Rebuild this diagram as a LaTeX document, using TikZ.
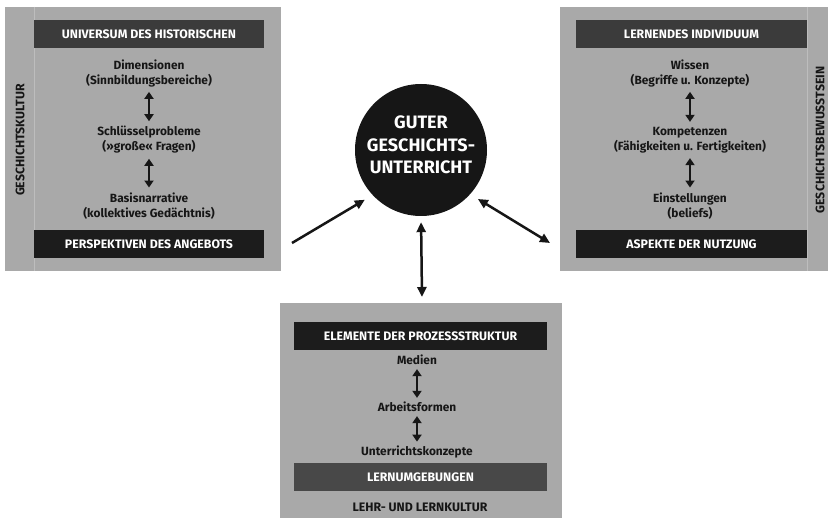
\documentclass[tikz,border=0pt]{standalone}
\usepackage{fontspec}
\setmainfont{Fira Sans}
\usetikzlibrary{arrows.meta}
\definecolor{panelgray}{HTML}{A9A9A9}
\definecolor{stripline}{HTML}{BDBDBD}
\definecolor{darkbar}{HTML}{1C1C1C}
\definecolor{midbar}{HTML}{3B3B3B}
\definecolor{lernbar}{HTML}{484848}
\definecolor{ink}{HTML}{161616}
\begin{document}
\begin{tikzpicture}[x=1pt,y=-1pt,
  panel/.style={fill=panelgray, draw=none, anchor=north west, inner sep=0pt},
  hbar/.style 2 args={fill=#1, text=white, inner sep=0pt,
    font=\bfseries\fontsize{12.3}{14}\selectfont,
    minimum width=#2, minimum height=28pt},
  item/.style={align=center, font=\bfseries\fontsize{11.9}{15}\selectfont, text=ink, inner sep=1pt},
  vlabel/.style={rotate=90, font=\bfseries\fontsize{12.3}{14}\selectfont, text=ink},
  dbl/.style={{Triangle[length=7pt,width=9pt]}-{Triangle[length=7pt,width=9pt]}, line width=2.4pt, draw=ink},
  bigarrow/.style={-{Triangle[length=10pt,width=9pt]}, line width=2.5pt, draw=ink},
  bigdbl/.style={{Triangle[length=10pt,width=9pt]}-{Triangle[length=10pt,width=9pt]}, line width=2.5pt, draw=ink}
]
\useasboundingbox (0,0) rectangle (828,518);
\fill[white] (0,0) rectangle (828,518);

% left panel
\node[panel, minimum width=276pt, minimum height=264pt] (lbox) at (5,7) {};
\draw[stripline, line width=0.8pt] (34.5,7) -- (34.5,271);
\node[hbar={midbar}{230pt}] (lhead) at (149,34) {UNIVERSUM DES HISTORISCHEN};
\node[hbar={darkbar}{230pt}] (lfoot) at (149,244) {PERSPEKTIVEN DES ANGEBOTS};
\node[vlabel] (lvl) at (20,140) {GESCHICHTSKULTUR};
\node[item] (l1) at (149,73) {Dimensionen\\(Sinnbildungsbereiche)};
\node[item] (l2) at (149,140) {Schlüsselprobleme\\(»große« Fragen)};
\node[item] (l3) at (149,206) {Basisnarrative\\(kollektives Gedächtnis)};
\draw[dbl, shorten <=4pt, shorten >=4pt] (l1) -- (l2);
\draw[dbl, shorten <=4pt, shorten >=4pt] (l2) -- (l3);

% right panel
\node[panel, minimum width=268pt, minimum height=264pt] (rbox) at (560,7) {};
\draw[stripline, line width=0.8pt] (807,7) -- (807,271);
\node[hbar={midbar}{231pt}] (rhead) at (691.5,34) {LERNENDES INDIVIDUUM};
\node[hbar={darkbar}{231pt}] (rfoot) at (691.5,244) {ASPEKTE DER NUTZUNG};
\node[vlabel] (rvl) at (820,140) {GESCHICHTSBEWUSSTSEIN};
\node[item] (r1) at (690,73) {Wissen\\(Begriffe u. Konzepte)};
\node[item] (r2) at (690,140) {Kompetenzen\\(Fähigkeiten u. Fertigkeiten)};
\node[item] (r3) at (690,206) {Einstellungen\\(beliefs)};
\draw[dbl, shorten <=4pt, shorten >=4pt] (r1) -- (r2);
\draw[dbl, shorten <=4pt, shorten >=4pt] (r2) -- (r3);

% bottom panel
\node[panel, minimum width=282pt, minimum height=215pt] (bbox) at (280,303) {};
\node[hbar={darkbar}{253pt}] (bhead) at (420.5,336) {ELEMENTE DER PROZESSSTRUKTUR};
\node[hbar={lernbar}{253pt}] (bfoot) at (420.5,477.5) {LERNUMGEBUNGEN};
\node[item] (b1) at (417,360) {Medien};
\node[item] (b2) at (417,407) {Arbeitsformen};
\node[item] (b3) at (417,452) {Unterrichtskonzepte};
\node[font=\bfseries\fontsize{12.3}{14}\selectfont, text=ink] (blab) at (420,507) {LEHR- UND LERNKULTUR};
\draw[dbl, shorten <=3pt, shorten >=3pt] (b1) -- (b2);
\draw[dbl, shorten <=3pt, shorten >=3pt] (b2) -- (b3);

% centre circle
\node[circle, fill=ink, minimum size=132pt, inner sep=0pt] (circ) at (421,150) {};
\node[align=center, text=white, font=\bfseries\fontsize{18}{22.5}\selectfont] (ctext) at (421,145) {GUTER\\GESCHICHTS-\\UNTERRICHT};

% connectors
\coordinate (la) at (292,243);
\coordinate (ra) at (550,243);
\coordinate (ma) at (422,297);
\draw[bigarrow, shorten >=9pt] (la) -- (circ.223);
\draw[bigdbl, shorten <=9pt] (circ.318) -- (ra);
\draw[bigdbl, shorten <=6pt] (circ.south) -- (ma);
\end{tikzpicture}
\end{document}
